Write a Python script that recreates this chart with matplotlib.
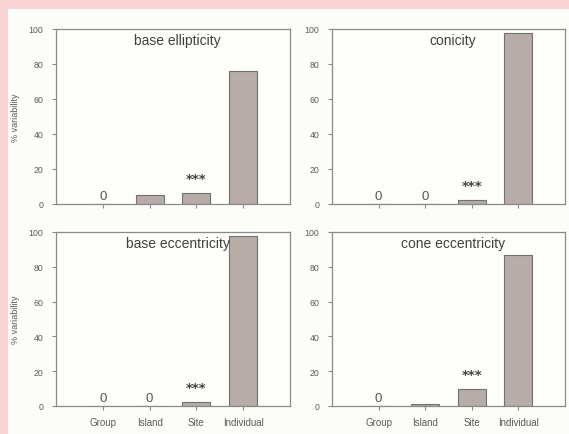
import matplotlib
matplotlib.use("Agg")
import matplotlib.pyplot as plt
from matplotlib.patches import Rectangle

plt.rcParams['font.family'] = ['Liberation Sans', 'DejaVu Sans']

categories = ["Group", "Island", "Site", "Individual"]
titles = ["base ellipticity", "conicity", "base eccentricity", "cone eccentricity"]
values = {
    "base ellipticity": [0, 5, 6.5, 76],
    "conicity": [0, 0, 2.5, 97.5],
    "base eccentricity": [0, 0, 2.5, 97.5],
    "cone eccentricity": [0, 1, 10, 86.5],
}
significance = {
    "base ellipticity": ["0", "", "***", ""],
    "conicity": ["0", "0", "***", ""],
    "base eccentricity": ["0", "0", "***", ""],
    "cone eccentricity": ["0", "", "***", ""],
}
yticks = [0, 20, 40, 60, 80, 100]

fig = plt.figure(figsize=(5.69, 4.35), dpi=100)
fig.patch.set_facecolor('#fcfcf8')
pink = '#f7d3d6'
fig.add_artist(Rectangle((0, 1 - 10/435), 1, 10/435, transform=fig.transFigure,
                         facecolor=pink, edgecolor='none', zorder=-10))
fig.add_artist(Rectangle((0, 0), 8/569, 1, transform=fig.transFigure,
                         facecolor=pink, edgecolor='none', zorder=-10))

W, H = 569, 435
boxes = [
    (56, 30, 290, 205),
    (332, 30, 565, 205),
    (56, 233, 290, 407),
    (332, 233, 565, 407),
]
grey = '#8a8a8a'
textgrey = '#5a5a5a'
for i, (title, (x0, y0, x1, y1)) in enumerate(zip(titles, boxes)):
    ax = fig.add_axes([x0 / W, 1 - y1 / H, (x1 - x0) / W, (y1 - y0) / H])
    ax.set_facecolor('#fdfdfa')
    xs = list(range(len(categories)))
    vals = values[title]
    ax.bar(xs, vals, width=0.6, color='#b7aca8', edgecolor='#707070', linewidth=0.8)
    ax.set_xlim(-1, 4)
    ax.set_ylim(0, 100)
    ax.set_yticks(yticks)
    ax.set_xticks(xs)
    for s in ax.spines.values():
        s.set_color(grey)
        s.set_linewidth(0.9)
    ax.tick_params(axis='y', direction='out', length=3, width=0.8, color=grey,
                   labelsize=6.3, labelcolor=textgrey, pad=6)
    ax.tick_params(axis='x', direction='out', length=3, width=0.8, color=grey,
                   labelsize=7, labelcolor=textgrey, pad=5)
    if i >= 2:
        ax.set_xticklabels(categories)
    else:
        ax.set_xticklabels([])
    if i % 2 == 0:
        ax.set_ylabel("% variability", fontsize=6.5, color=textgrey, labelpad=6)
    ax.text(0.52, 0.935, title, transform=ax.transAxes, ha='center', va='center',
            fontsize=10, color='#404040')
    for x, v, s in zip(xs, vals, significance[title]):
        if s == "0":
            ax.text(x, 4.8, "0", ha='center', va='center', fontsize=9.5, color='#555555')
        elif s:
            ax.text(x, v + 8, s, ha='center', va='center', fontsize=9.5,
                    color='#444444', family='DejaVu Sans', fontweight='bold')

fig.savefig("out.png", dpi=100, facecolor=fig.get_facecolor())
